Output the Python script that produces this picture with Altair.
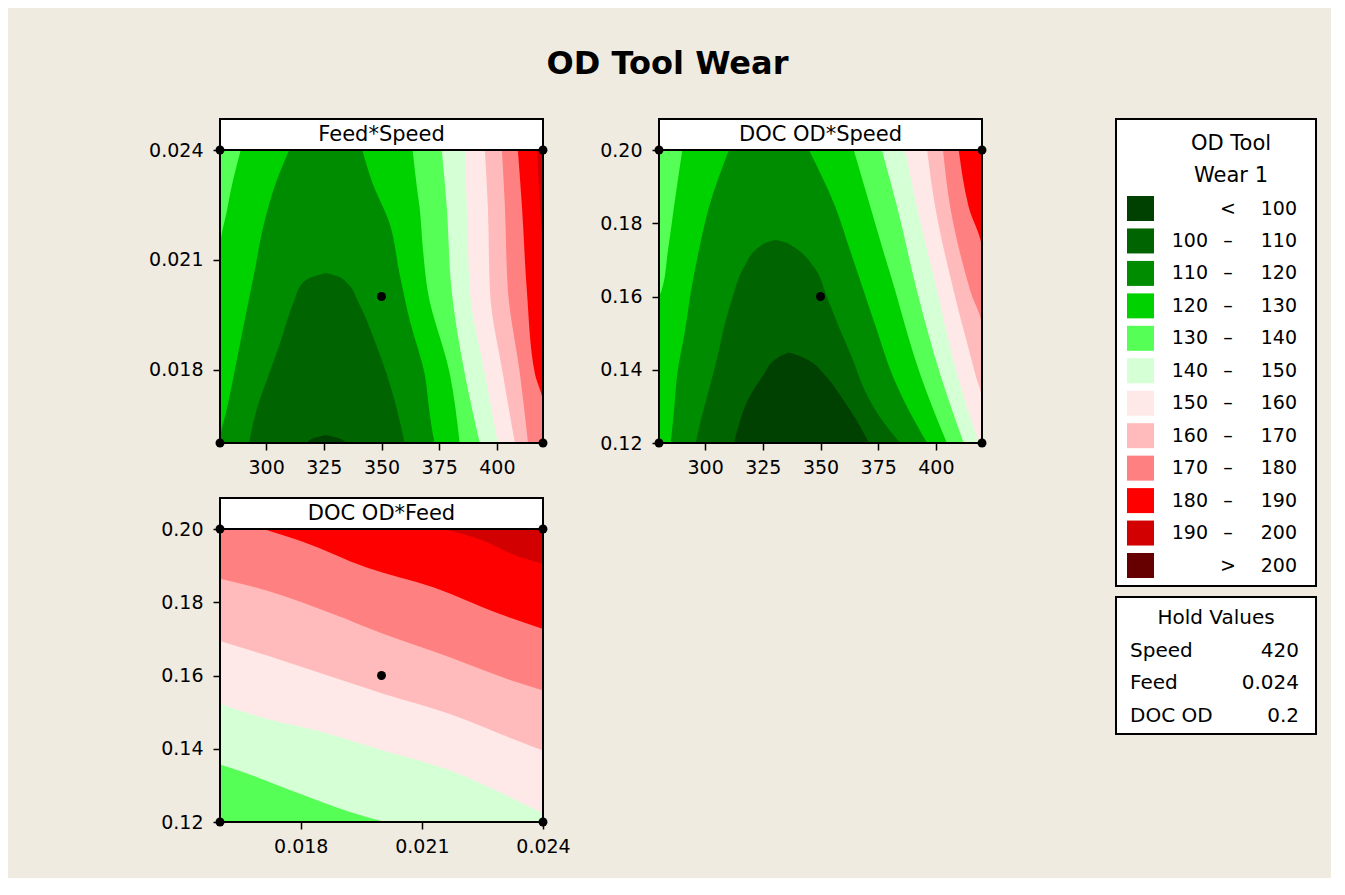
import altair as alt
import pandas as pd

FONT = "DejaVu Sans"
W, H = 323, 293

# ---------------- axes ----------------
speed_domain = [280, 420]
feed_domain = [0.016, 0.024]
doc_domain = [0.12, 0.20]
speed_ticks = [300, 325, 350, 375, 400]
feed_ticks = [0.018, 0.021, 0.024]
doc_ticks = [0.12, 0.14, 0.16, 0.18, 0.20]

# ---------------- legend ----------------
band_colors = ["#004000", "#006400", "#008c00", "#00d200", "#55ff55", "#d5ffd5",
               "#ffe8e8", "#ffbbbb", "#ff8080", "#ff0000", "#d20000", "#660000"]
legend_rows = [0, 1, 2, 3, 4, 5, 6, 7, 8, 9, 10, 11]
legend_lo = ["", "100", "110", "120", "130", "140", "150", "160", "170", "180", "190", ""]
legend_mid = ["<", "–", "–", "–", "–", "–", "–", "–", "–", "–", "–", ">"]
legend_hi = ["100", "110", "120", "130", "140", "150", "160", "170", "180", "190", "200", "200"]
legend_title = ["OD Tool", "Wear 1"]
hold_rows = [0, 1, 2]
hold_names = ["Speed", "Feed", "DOC OD"]
hold_values = ["420", "0.024", "0.2"]

# ---------------- Feed*Speed (x = Speed, y = Feed) ----------------
# each region: area where wear < level, given by y samples and left/right Speed
fs_base = "#d20000"
fs_regions = [
    ("#ff0000", [0.0240, 0.02244, 0.02107, 0.0160],
     [280, 280, 280, 280], [417.4, 418.7, 420.0, 420.0]),
    ("#ff8080", [0.0240, 0.02244, 0.02016, 0.01789, 0.01707, 0.0160],
     [280, 280, 280, 280, 280, 280], [409.1, 410.9, 413.0, 416.5, 420.0, 420.0]),
    ("#ffbbbb", [0.0240, 0.02244, 0.02016, 0.01789, 0.0160],
     [280, 280, 280, 280, 280], [402.2, 403.5, 404.8, 410.0, 413.5]),
    ("#ffe8e8", [0.0240, 0.02244, 0.02016, 0.01789, 0.0160],
     [280, 280, 280, 280, 280], [394.8, 396.1, 397.0, 402.6, 407.8]),
    ("#d5ffd5", [0.0240, 0.02244, 0.02016, 0.01789, 0.0160],
     [280, 280, 280, 280, 280], [386.1, 387.0, 388.3, 394.8, 400.4]),
    ("#55ff55", [0.0240, 0.02244, 0.02016, 0.01789, 0.0160],
     [280, 280, 280, 280, 280], [376.1, 378.3, 380.4, 386.1, 392.6]),
    ("#00d200", [0.0240, 0.0229, 0.02244, 0.02126, 0.02016, 0.01789, 0.0160],
     [289.0, 284.7, 283.3, 280.0, 280.0, 280.0, 280.0],
     [363.5, 365.5, 366.5, 368.0, 370.0, 379.6, 383.9]),
    ("#008c00", [0.0240, 0.0231, 0.0220, 0.02063, 0.01926, 0.01789, 0.0168, 0.01625, 0.0160],
     [310.0, 304.2, 299.1, 294.8, 290.4, 286.1, 282.5, 280.3, 280.0],
     [341.7, 346.1, 353.5, 357.8, 362.6, 368.7, 370.9, 372.2, 373.0]),
    ("#006400", [0.02064, 0.02055, 0.02036, 0.01989, 0.0188, 0.01789, 0.01696, 0.0160],
     [326.0, 320.9, 315.7, 312.2, 306.4, 301.3, 296.1, 292.6],
     [326.0, 330.9, 335.2, 339.6, 347.0, 352.2, 356.5, 360.0]),
    ("#004000", [0.01622, 0.01614, 0.0160],
     [326.0, 320.9, 317.8], [326.0, 330.9, 334.7]),
]
fs_pts_x = [280, 280, 420, 420, 350]
fs_pts_y = [0.016, 0.024, 0.016, 0.024, 0.020]

# ---------------- DOC OD*Speed (x = Speed, y = DOC) ----------------
ds_base = "#ff0000"
ds_regions = [
    ("#ff8080", [0.2000, 0.1845, 0.1726, 0.1200],
     [280, 280, 280, 280], [409.9, 414.2, 420.0, 420.0]),
    ("#ffbbbb", [0.2000, 0.1845, 0.1616, 0.1515, 0.1200],
     [280, 280, 280, 280, 280], [403.1, 406.2, 414.9, 420.0, 420.0]),
    ("#ffe8e8", [0.2000, 0.1845, 0.1616, 0.1388, 0.1315, 0.1200],
     [280, 280, 280, 280, 280, 280], [396.2, 399.7, 407.7, 417.1, 420.0, 420.0]),
    ("#d5ffd5", [0.2000, 0.1845, 0.1616, 0.1388, 0.1200],
     [280, 280, 280, 280, 280], [386.7, 391.8, 400.5, 409.2, 418.6]),
    ("#55ff55", [0.2000, 0.1845, 0.1616, 0.1388, 0.1200],
     [280, 280, 280, 280, 280], [376.6, 383.2, 391.8, 401.9, 412.1]),
    ("#00d200", [0.2000, 0.1845, 0.1726, 0.1616, 0.1598, 0.1388, 0.1200],
     [290.1, 286.5, 283.9, 281.1, 280.0, 280.0, 280.0],
     [364.4, 371.6, 377.1, 382.4, 383.2, 393.2, 404.8]),
    ("#008c00", [0.2000, 0.1845, 0.1726, 0.1616, 0.1507, 0.1388, 0.1288, 0.1200],
     [310.3, 301.7, 297.3, 293.9, 291.3, 287.9, 286.5, 285.1],
     [345.0, 356.4, 362.8, 368.7, 374.5, 381.0, 388.4, 396.2]),
    ("#006400", [0.1755, 0.1748, 0.1735, 0.1680, 0.1598, 0.1516, 0.1434, 0.1342, 0.1274, 0.1200],
     [330.6, 326.8, 323.4, 316.8, 311.9, 308.2, 305.3, 301.5, 298.6, 295.9],
     [330.6, 334.6, 338.4, 347.2, 352.8, 358.0, 363.6, 369.3, 375.4, 384.5]),
    ("#004000", [0.1447, 0.1438, 0.1425, 0.1388, 0.1315, 0.1260, 0.1200],
     [336.3, 332.9, 329.8, 325.5, 318.3, 315.1, 312.5],
     [336.3, 340.7, 345.0, 351.5, 360.2, 365.8, 371.0]),
]
ds_pts_x = [280, 280, 420, 420, 350]
ds_pts_y = [0.12, 0.20, 0.12, 0.20, 0.16]

# ---------------- DOC OD*Feed (x = Feed, y = DOC) ----------------
# each region: x samples, lower DOC, upper DOC
df_base = "#d5ffd5"
df_regions = [
    ("#55ff55", [0.0160, 0.01658, 0.01798, 0.01922, 0.02008],
     [0.12, 0.12, 0.12, 0.12, 0.12], [0.1357, 0.1336, 0.1277, 0.1227, 0.1200]),
    ("#ffe8e8", [0.0160, 0.01715, 0.01839, 0.02004, 0.02169, 0.02317, 0.0240],
     [0.1523, 0.1482, 0.1450, 0.1395, 0.1341, 0.1268, 0.1223],
     [0.20, 0.20, 0.20, 0.20, 0.20, 0.20, 0.20]),
    ("#ffbbbb", [0.0160, 0.01715, 0.01880, 0.02004, 0.02169, 0.02334, 0.0240],
     [0.1694, 0.1655, 0.1595, 0.1550, 0.1495, 0.1423, 0.1395],
     [0.20, 0.20, 0.20, 0.20, 0.20, 0.20, 0.20]),
    ("#ff8080", [0.0160, 0.01715, 0.01880, 0.02004, 0.02169, 0.02334, 0.0240],
     [0.1864, 0.1832, 0.1768, 0.1714, 0.1650, 0.1582, 0.1559],
     [0.20, 0.20, 0.20, 0.20, 0.20, 0.20, 0.20]),
    ("#ff0000", [0.01707, 0.01798, 0.01963, 0.02128, 0.02293, 0.0240],
     [0.2000, 0.1968, 0.1895, 0.1841, 0.1768, 0.1727],
     [0.20, 0.20, 0.20, 0.20, 0.20, 0.20]),
    ("#d20000", [0.02153, 0.02252, 0.02334, 0.0240],
     [0.2000, 0.1968, 0.1927, 0.1905], [0.20, 0.20, 0.20, 0.20]),
]
df_pts_x = [0.016, 0.016, 0.024, 0.024, 0.020]
df_pts_y = [0.12, 0.20, 0.12, 0.20, 0.16]


def make_axis(vals, fmt, extent, pad):
    return alt.Axis(values=vals, format=fmt, title=None, grid=False, domain=False,
                    tickColor="black", tickSize=7, tickWidth=1.5,
                    labelFont=FONT, labelFontSize=19, labelColor="black",
                    labelPadding=pad, labelFlush=False, labelOverlap=False,
                    minExtent=extent)


def panel(title, xdom, xvals, xfmt, ydom, yvals, yfmt, base_color, regions,
          horizontal, pts_x, pts_y):
    xs = alt.Scale(domain=xdom, nice=False, zero=False)
    ys = alt.Scale(domain=ydom, nice=False, zero=False)
    ax = make_axis(xvals, xfmt, 36, 8)
    ay = make_axis(yvals, yfmt, 76, 10)
    frame = pd.DataFrame({"x0": [xdom[0]], "x1": [xdom[1]], "y0": [ydom[0]], "y1": [ydom[1]]})
    rect_enc = dict(x=alt.X("x0:Q", scale=xs, axis=ax), x2="x1:Q",
                    y=alt.Y("y0:Q", scale=ys, axis=ay), y2="y1:Q")
    layers = [alt.Chart(frame).mark_rect(color=base_color).encode(**rect_enc)]
    for color, v, lo, hi in regions:
        d = pd.DataFrame({"v": v, "lo": lo, "hi": hi})
        if horizontal:
            layers.append(alt.Chart(d).mark_area(
                orient="horizontal", interpolate="monotone", clip=True, color=color
            ).encode(y=alt.Y("v:Q", scale=ys, axis=ay),
                     x=alt.X("lo:Q", scale=xs, axis=ax), x2="hi:Q"))
        else:
            layers.append(alt.Chart(d).mark_area(
                orient="vertical", interpolate="monotone", clip=True, color=color
            ).encode(x=alt.X("v:Q", scale=xs, axis=ax),
                     y=alt.Y("lo:Q", scale=ys, axis=ay), y2="hi:Q"))
    layers.append(alt.Chart(frame).mark_rect(
        fillOpacity=0, stroke="black", strokeWidth=2).encode(**rect_enc))
    hdr = pd.DataFrame({"label": [title]})
    layers.append(alt.Chart(hdr).mark_rect(
        fill="white", stroke="black", strokeWidth=2
    ).encode(x=alt.value(0), x2=alt.value(W), y=alt.value(-31), y2=alt.value(0)))
    layers.append(alt.Chart(hdr).mark_text(
        font=FONT, fontSize=21, color="black", align="center", baseline="middle"
    ).encode(x=alt.value(W / 2), y=alt.value(-15.5), text="label:N"))
    pts = pd.DataFrame({"px": pts_x, "py": pts_y})
    layers.append(alt.Chart(pts).mark_circle(
        size=80, color="black", opacity=1, clip=False
    ).encode(x=alt.X("px:Q", scale=xs, axis=ax), y=alt.Y("py:Q", scale=ys, axis=ay)))
    return alt.layer(*layers).properties(width=W, height=H)


p1 = panel("Feed*Speed", speed_domain, speed_ticks, "d", feed_domain, feed_ticks, ".3f",
           fs_base, fs_regions, True, fs_pts_x, fs_pts_y)
p2 = panel("DOC OD*Speed", speed_domain, speed_ticks, "d", doc_domain, doc_ticks, ".2f",
           ds_base, ds_regions, True, ds_pts_x, ds_pts_y)
p3 = panel("DOC OD*Feed", feed_domain, feed_ticks, ".3f", doc_domain, doc_ticks, ".2f",
           df_base, df_regions, False, df_pts_x, df_pts_y)

# ---------------- legend + hold values (one layered chart) ----------------
leg = pd.DataFrame({"row": legend_rows, "color": band_colors, "lo": legend_lo,
                    "mid": legend_mid, "hi": legend_hi})
leg["top"] = leg["row"] - 0.385
leg["bot"] = leg["row"] + 0.385
leg_title = pd.DataFrame({"row": [-2, -1], "text": legend_title})
lys = alt.Scale(domain=[0, 11], range=[58.5, 415.5])

hold = pd.DataFrame({"row": hold_rows, "name": hold_names, "val": hold_values})
hold_title = pd.DataFrame({"row": [-1], "text": ["Hold Values"]})
hys = alt.Scale(domain=[0, 2], range=[500.5, 565.5])

box_df = pd.DataFrame({"box": ["frame"]})


def txt(data, field, xpos, align, scale, size=19):
    return alt.Chart(data).mark_text(
        font=FONT, fontSize=size, color="black", align=align, baseline="middle"
    ).encode(x=alt.value(xpos), y=alt.Y("row:Q", scale=scale, axis=None), text=f"{field}:N")


side = alt.layer(
    alt.Chart(box_df).mark_rect(fill="white", stroke="black", strokeWidth=2).encode(
        x=alt.value(0), x2=alt.value(200), y=alt.value(-31), y2=alt.value(436)),
    alt.Chart(box_df).mark_rect(fill="white", stroke="black", strokeWidth=2).encode(
        x=alt.value(0), x2=alt.value(200), y=alt.value(447), y2=alt.value(584)),
    alt.Chart(leg).mark_rect().encode(
        x=alt.value(11), x2=alt.value(38),
        y=alt.Y("top:Q", scale=lys, axis=None), y2="bot:Q",
        color=alt.Color("color:N", scale=None)),
    txt(leg, "lo", 92, "right", lys),
    txt(leg, "mid", 112, "center", lys),
    txt(leg, "hi", 181, "right", lys),
    txt(leg_title, "text", 115, "center", lys, 21),
    txt(hold_title, "text", 100, "center", hys, 20),
    txt(hold, "name", 14, "left", hys, 20),
    txt(hold, "val", 183, "right", hys, 20),
).resolve_scale(y="independent").properties(width=200, height=H)

row1 = alt.hconcat(p1, p2, spacing=35)
left = alt.vconcat(row1, p3, spacing=18)

chart = alt.hconcat(left, side, spacing=128).properties(
    title=alt.TitleParams("OD Tool Wear", font=FONT, fontSize=32, fontWeight="bold",
                          color="black", anchor="middle", dx=-63, offset=37,
                          baseline="top"),
    padding={"left": 136, "top": 40, "right": 14, "bottom": 20},
    background="#f0ebe1",
).configure_view(strokeWidth=0)

chart.save("out.html", embed_options={"renderer": "svg", "actions": False})
